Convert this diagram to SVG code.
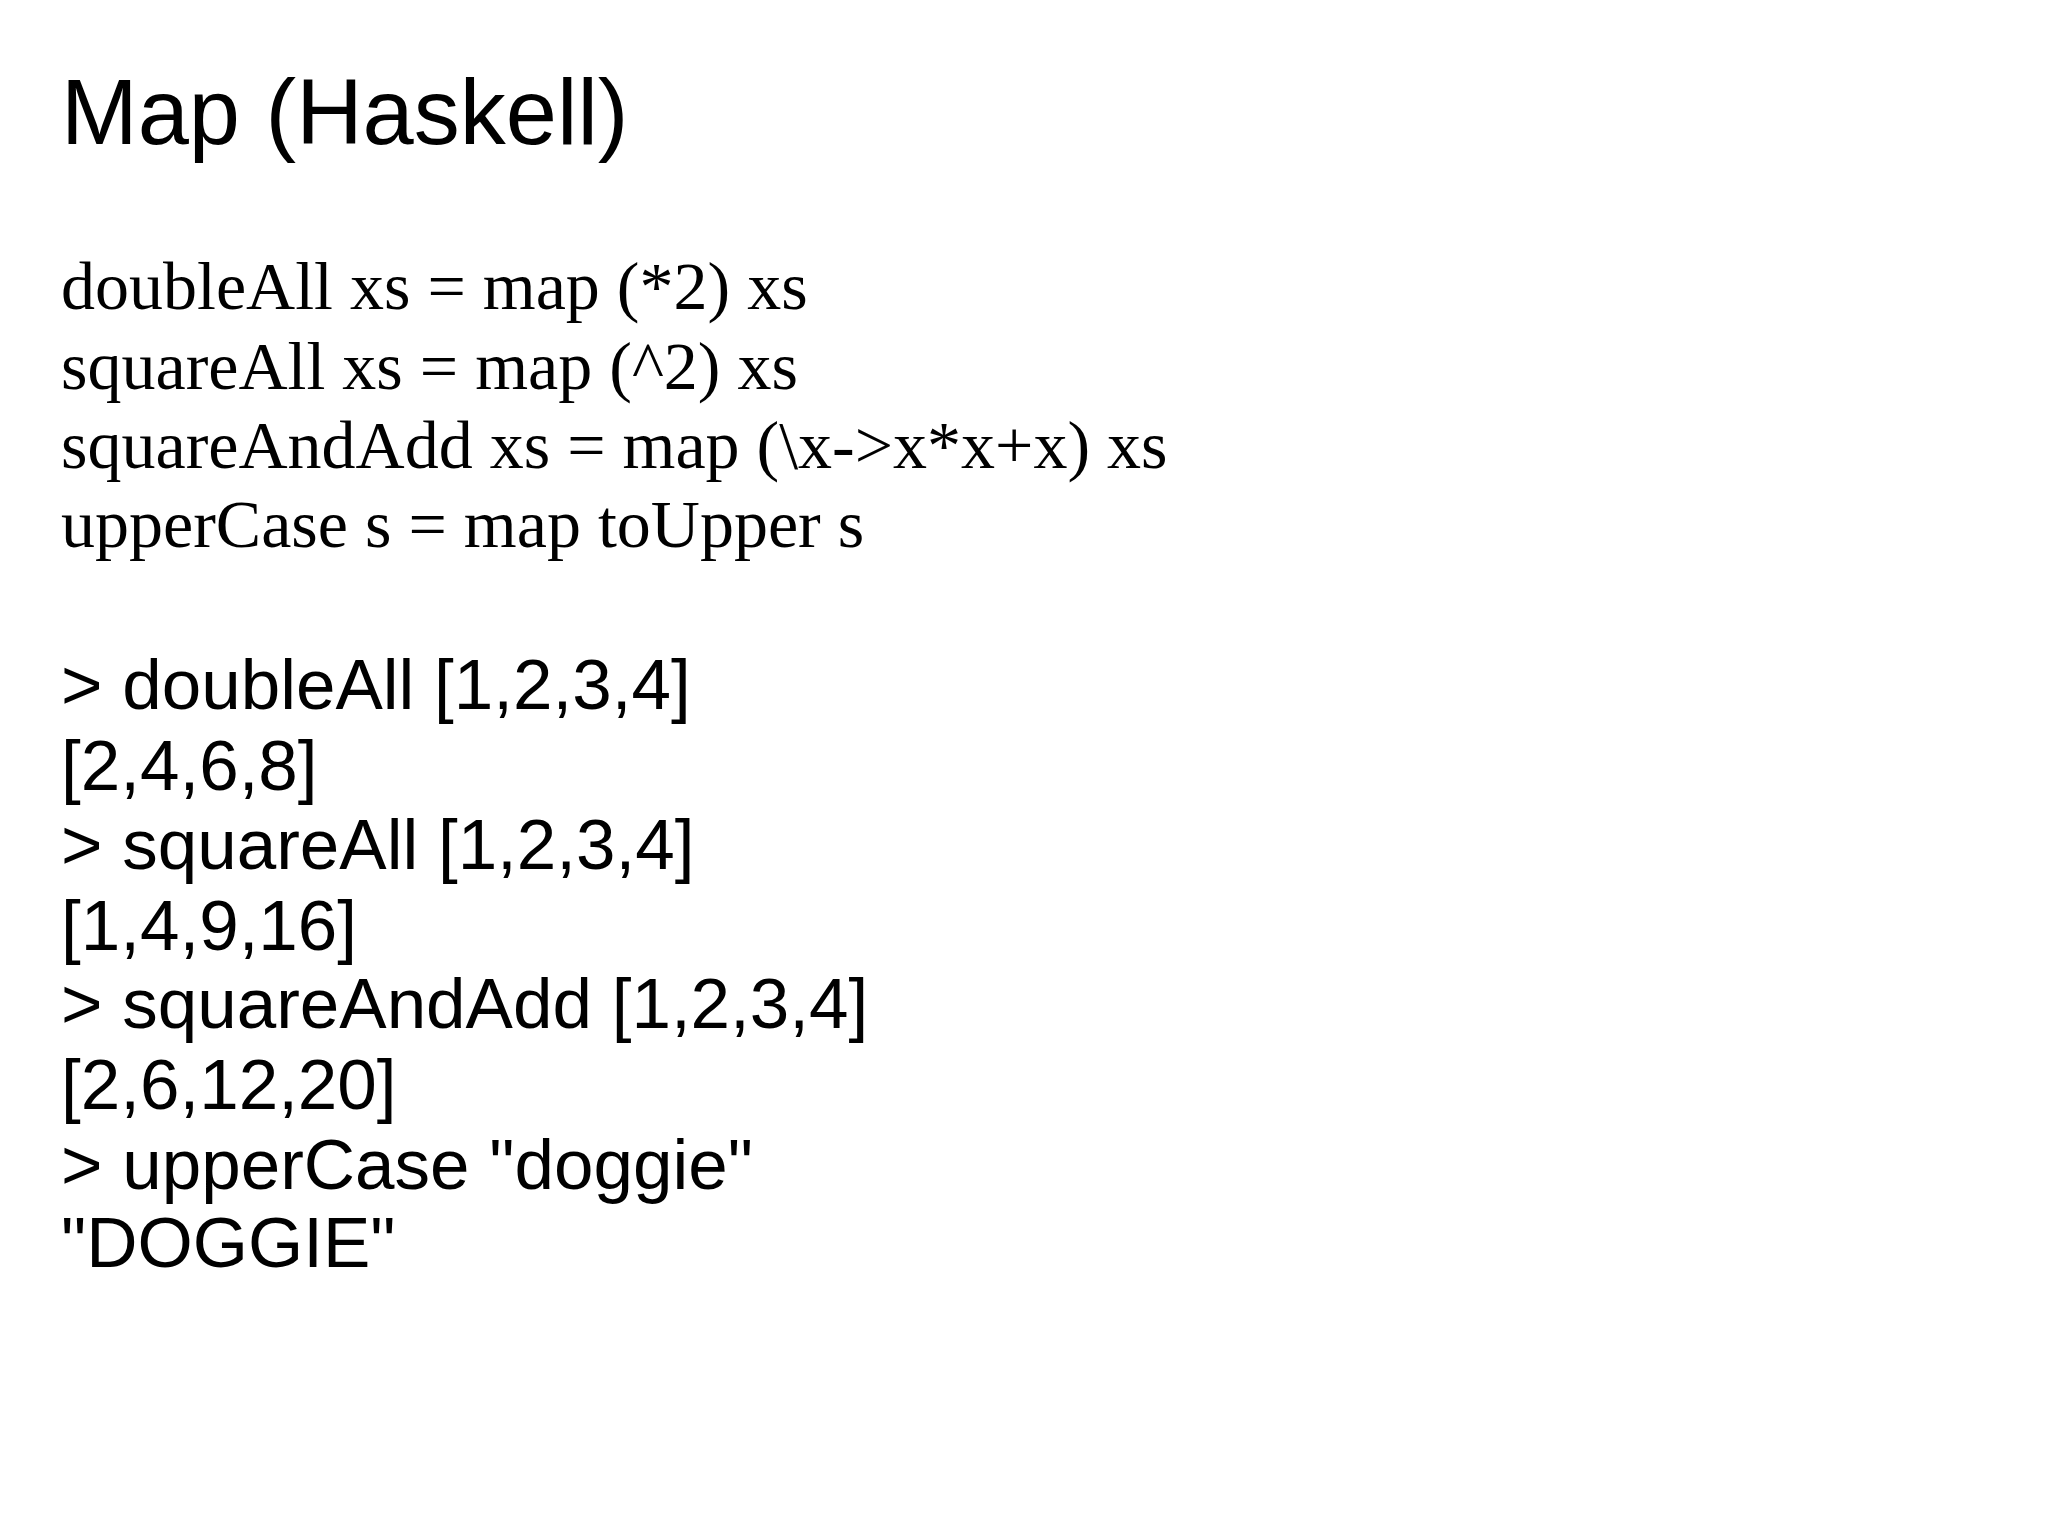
<svg xmlns="http://www.w3.org/2000/svg" width="2048" height="1536" viewBox="0 0 2048 1536">
<style>
.t{font-family:"Liberation Sans",Arial,sans-serif;font-size:92px;fill:#000}
.s{font-family:"Liberation Serif","Times New Roman",serif;font-size:68px;fill:#000}
.a{font-family:"Liberation Sans",Arial,sans-serif;font-size:71px;fill:#000}
</style>
<rect width="2048" height="1536" fill="#fff"/>
<g id="title"><text class="t" x="61" y="144">Map (Haskell)</text></g>
<g id="code">
<text class="s" x="61" y="309">doubleAll xs = map (*2) xs</text>
<text class="s" x="61" y="389">squareAll xs = map (^2) xs</text>
<text class="s" x="61" y="468">squareAndAdd xs = map (\x-&gt;x*x+x) xs</text>
<text class="s" x="61" y="547">upperCase s = map toUpper s</text>
</g>
<g id="repl">
<text class="a" x="61" y="709">&gt; doubleAll [1,2,3,4]</text>
<text class="a" x="61" y="790">[2,4,6,8]</text>
<text class="a" x="61" y="869">&gt; squareAll [1,2,3,4]</text>
<text class="a" x="61" y="950">[1,4,9,16]</text>
<text class="a" x="61" y="1028">&gt; squareAndAdd [1,2,3,4]</text>
<text class="a" x="61" y="1109">[2,6,12,20]</text>
<text class="a" x="61" y="1189">&gt; upperCase "doggie"</text>
<text class="a" x="61" y="1267">"DOGGIE"</text>
</g>
<g id="connectors"/>
</svg>
